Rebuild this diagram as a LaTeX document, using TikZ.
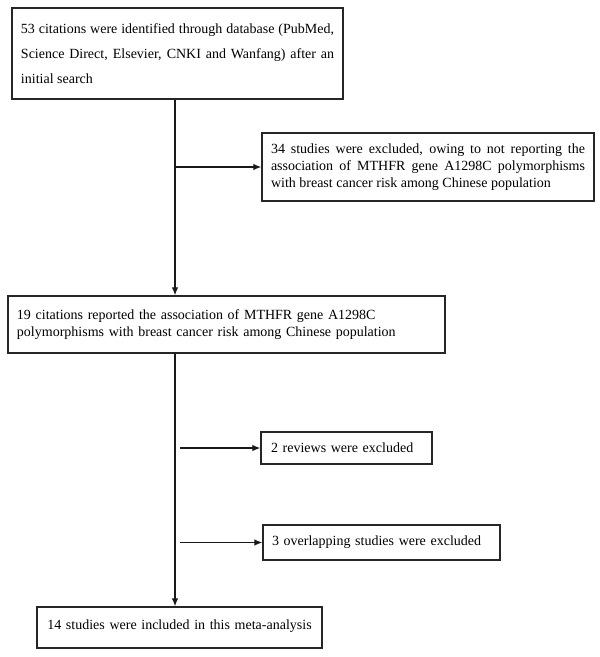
\documentclass[tikz,border=0pt]{standalone}
\usepackage{fontspec}
\setmainfont{Liberation Serif}
\usetikzlibrary{arrows.meta}

\begin{document}
\begin{tikzpicture}[x=1bp, y=-1bp,
    every node/.style={font=\fontsize{14bp}{17bp}\selectfont},
    box/.style={draw=black!85, line width=1.3bp, rectangle, inner sep=0pt},
    flow/.style={draw=black!90, line width=1.2bp, -{Latex[length=8bp,width=6.5bp]}}]
    % Rahmen
    \useasboundingbox (0,0) rectangle (600,657);

    % Hauptkette
    \node[box, minimum width=331bp, minimum height=91bp, text width=313bp, align=justify]
      (search) at (177.5,53.5) {\baselineskip=25bp 53 citations were identified through database (PubMed,\linebreak Science Direct, Elsevier, CNKI and Wanfang) after an\linebreak initial search\par};
    \node[box, minimum width=437bp, minimum height=57bp, text width=419bp, align=left]
      (reported) at (226.5,324.5) {\baselineskip=20bp 19 citations reported the association of MTHFR gene A1298C\\ polymorphisms with breast cancer risk among Chinese population};
    \node[box, minimum width=285bp, minimum height=41bp, text width=275bp, align=center]
      (included) at (179.5,627.5) {\raisebox{5bp}{14 studies were included in this meta-analysis}};

    % Ausschluesse
    \node[box, minimum width=332bp, minimum height=68bp, text width=314bp, align=justify]
      (offtopic) at (428,167) {34 studies were excluded, owing to not reporting the\linebreak association of MTHFR gene A1298C polymorphisms\linebreak with breast cancer risk among Chinese population\par};
    \node[box, minimum width=171bp, minimum height=32bp, text width=151bp, align=left]
      (reviews) at (346.5,448) {2 reviews were excluded};
    \node[box, minimum width=237bp, minimum height=35bp, text width=219bp, align=left]
      (overlap) at (381.5,542.5) {3 overlapping studies were excluded};

    % Pfeile
    \coordinate (trunk) at (175,0);
    \draw[flow] (search.south -| trunk) -- (reported.north -| trunk);
    \draw[flow] (reported.south -| trunk) -- (included.north -| trunk);
    \draw[flow] ([xshift=1bp]trunk |- offtopic.west) -- (offtopic.west);
    \draw[flow] ([xshift=5bp]trunk |- reviews.west) -- (reviews.west);
    \draw[flow] ([xshift=5bp]trunk |- overlap.west) -- (overlap.west);
  \end{tikzpicture}
\end{document}
